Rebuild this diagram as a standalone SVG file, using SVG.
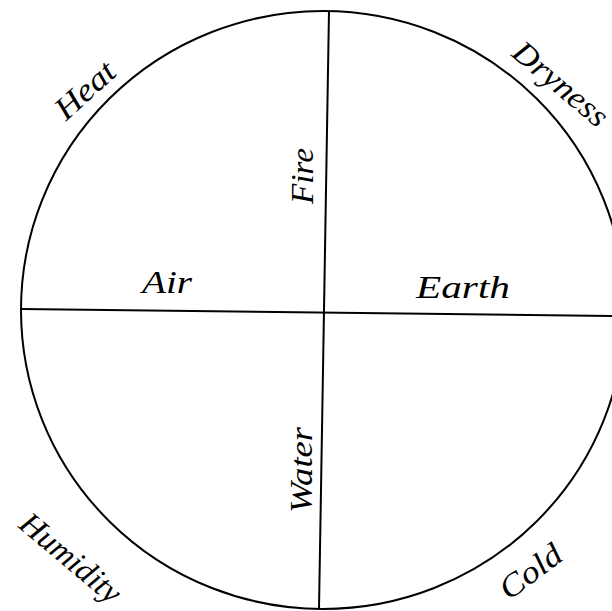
<svg xmlns="http://www.w3.org/2000/svg" width="612" height="611" viewBox="0 0 612 611">
<style>
.l{fill:none;stroke:#000;stroke-width:2}
text{font-family:"Liberation Serif","Times New Roman",serif;font-style:italic;font-size:32px;fill:#000;text-anchor:middle}
</style>
<rect width="612" height="611" fill="#fff"/>
<g id="connectors">
<ellipse class="l" cx="323" cy="310" rx="302" ry="299"/>
<line class="l" x1="329" y1="11" x2="319" y2="609"/>
<line class="l" x1="21" y1="309" x2="612" y2="316"/>
</g>
<g id="heat"><text transform="translate(92,98) rotate(-42)" textLength="70" lengthAdjust="spacingAndGlyphs">Heat</text></g>
<g id="dryness"><text transform="translate(554,92) rotate(40)" textLength="114" lengthAdjust="spacingAndGlyphs">Dryness</text></g>
<g id="humidity"><text transform="translate(64,566) rotate(40)" textLength="122" lengthAdjust="spacingAndGlyphs">Humidity</text></g>
<g id="cold"><text transform="translate(537,580) rotate(-37)" textLength="70" lengthAdjust="spacingAndGlyphs">Cold</text></g>
<g id="fire"><text transform="translate(313,176) rotate(-90)" textLength="56" lengthAdjust="spacingAndGlyphs">Fire</text></g>
<g id="water"><text transform="translate(312,470) rotate(-90)" textLength="86" lengthAdjust="spacingAndGlyphs">Water</text></g>
<g id="air"><text x="167" y="293" textLength="50" lengthAdjust="spacingAndGlyphs">Air</text></g>
<g id="earth"><text x="463" y="298" textLength="94" lengthAdjust="spacingAndGlyphs">Earth</text></g>
</svg>
